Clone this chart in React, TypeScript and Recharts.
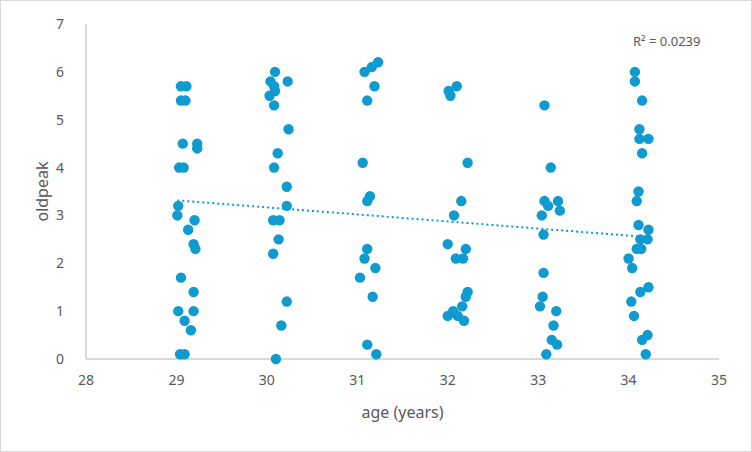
import { Label, Scatter, ScatterChart, XAxis, YAxis } from "recharts";

// [age (jittered), oldpeak], one list per age
const age29 = [
  [29.05, 5.7], [29.11, 5.7], [29.05, 5.4], [29.1, 5.4], [29.07, 4.5], [29.23, 4.5],
  [29.23, 4.4], [29.03, 4.0], [29.08, 4.0], [29.02, 3.2], [29.01, 3.0], [29.2, 2.9],
  [29.13, 2.7], [29.19, 2.4], [29.21, 2.3], [29.05, 1.7], [29.19, 1.4], [29.02, 1.0],
  [29.19, 1.0], [29.09, 0.8], [29.16, 0.6], [29.04, 0.1], [29.09, 0.1],
];
const age30 = [
  [30.09, 6.0], [30.23, 5.8], [30.04, 5.8], [30.08, 5.7], [30.09, 5.6], [30.03, 5.5],
  [30.08, 5.3], [30.24, 4.8], [30.12, 4.3], [30.08, 4.0], [30.22, 3.6], [30.22, 3.2],
  [30.07, 2.9], [30.14, 2.9], [30.13, 2.5], [30.07, 2.2], [30.22, 1.2], [30.16, 0.7],
  [30.1, 0.0],
];
const age31 = [
  [31.23, 6.2], [31.16, 6.1], [31.08, 6.0], [31.19, 5.7], [31.11, 5.4], [31.06, 4.1],
  [31.14, 3.4], [31.11, 3.3], [31.11, 2.3], [31.08, 2.1], [31.2, 1.9], [31.03, 1.7],
  [31.17, 1.3], [31.11, 0.3], [31.21, 0.1],
];
const age32 = [
  [32.1, 5.7], [32.01, 5.6], [32.03, 5.5], [32.22, 4.1], [32.15, 3.3], [32.07, 3.0],
  [32.0, 2.4], [32.2, 2.3], [32.09, 2.1], [32.17, 2.1], [32.22, 1.4], [32.2, 1.3],
  [32.16, 1.1], [32.06, 1.0], [32.0, 0.9], [32.11, 0.9], [32.18, 0.8],
];
const age33 = [
  [33.07, 5.3], [33.14, 4.0], [33.07, 3.3], [33.22, 3.3], [33.11, 3.2], [33.24, 3.1],
  [33.04, 3.0], [33.06, 2.6], [33.06, 1.8], [33.05, 1.3], [33.02, 1.1], [33.2, 1.0],
  [33.17, 0.7], [33.15, 0.4], [33.21, 0.3], [33.09, 0.1],
];
const age34 = [
  [34.07, 6.0], [34.07, 5.8], [34.15, 5.4], [34.12, 4.8], [34.12, 4.6], [34.22, 4.6],
  [34.15, 4.3], [34.11, 3.5], [34.09, 3.3], [34.11, 2.8], [34.22, 2.7], [34.13, 2.5],
  [34.21, 2.5], [34.09, 2.3], [34.14, 2.3], [34.0, 2.1], [34.04, 1.9], [34.22, 1.5],
  [34.13, 1.4], [34.03, 1.2], [34.06, 0.9], [34.21, 0.5], [34.15, 0.4], [34.19, 0.1],
];

const xTicks = [28, 29, 30, 31, 32, 33, 34, 35];
const yTicks = [0, 1, 2, 3, 4, 5, 6, 7];

const points = [age29, age30, age31, age32, age33, age34]
  .flat()
  .map(([age, oldpeak]) => ({ age, oldpeak }));

// least-squares trendline over the data range
const n = points.length;
const mx = points.reduce((s, p) => s + p.age, 0) / n;
const my = points.reduce((s, p) => s + p.oldpeak, 0) / n;
const slope =
  points.reduce((s, p) => s + (p.age - mx) * (p.oldpeak - my), 0) /
  points.reduce((s, p) => s + (p.age - mx) ** 2, 0);
const ages = points.map((p) => p.age);
const trend = [Math.min(...ages), Math.max(...ages)].map((age) => ({
  age,
  oldpeak: my + slope * (age - mx),
}));

const BLUE = "#0f9ad0";
const GREY = "#595959";
const FONT = "'Noto Sans', sans-serif";

export default function App() {
  return (
    <div
      style={{
        position: "absolute",
        left: 0,
        top: 0,
        width: 752,
        height: 452,
        border: "1px solid #d9d9d9",
        boxSizing: "border-box",
        background: "#fff",
        fontFamily: FONT,
      }}
    >
      <ScatterChart
        width={752}
        height={452}
        margin={{ top: 24, right: 33, bottom: 33, left: 26 }}
        style={{ position: "absolute", left: -1, top: -1 }}
      >
        <XAxis
          type="number"
          dataKey="age"
          domain={[28, 35]}
          ticks={xTicks}
          height={60}
          stroke="#b3b3b3"
          tickLine={false}
          tickSize={14}
          tickMargin={2}
          tick={{ fill: GREY, fontSize: 14, fontFamily: FONT }}
        >
          <Label value="age (years)" position="insideBottom" offset={1} fill={GREY} fontSize={16} fontFamily={FONT} />
        </XAxis>
        <YAxis
          type="number"
          dataKey="oldpeak"
          domain={[0, 7]}
          ticks={yTicks}
          width={60}
          stroke="#b3b3b3"
          tickLine={false}
          tickSize={20}
          tickMargin={2}
          tick={{ fill: GREY, fontSize: 14, fontFamily: FONT }}
        >
          <Label
            value="oldpeak"
            angle={-90}
            position="insideLeft"
            offset={16}
            fill={GREY}
            fontSize={16}
            fontFamily={FONT}
            style={{ textAnchor: "middle" }}
          />
        </YAxis>
        <Scatter
          data={points}
          isAnimationActive={false}
          fill={BLUE}
          shape={(p: any) => <circle cx={p.cx} cy={p.cy} r={5.2} fill={BLUE} />}
        />
        <Scatter
          data={trend}
          isAnimationActive={false}
          line={{ stroke: BLUE, strokeWidth: 2, strokeDasharray: "2 3" }}
          shape={() => <g />}
        />
      </ScatterChart>
      <div style={{ position: "absolute", left: 632, top: 31, fontSize: 13, color: GREY }}>
        R² = 0.0239
      </div>
    </div>
  );
}
